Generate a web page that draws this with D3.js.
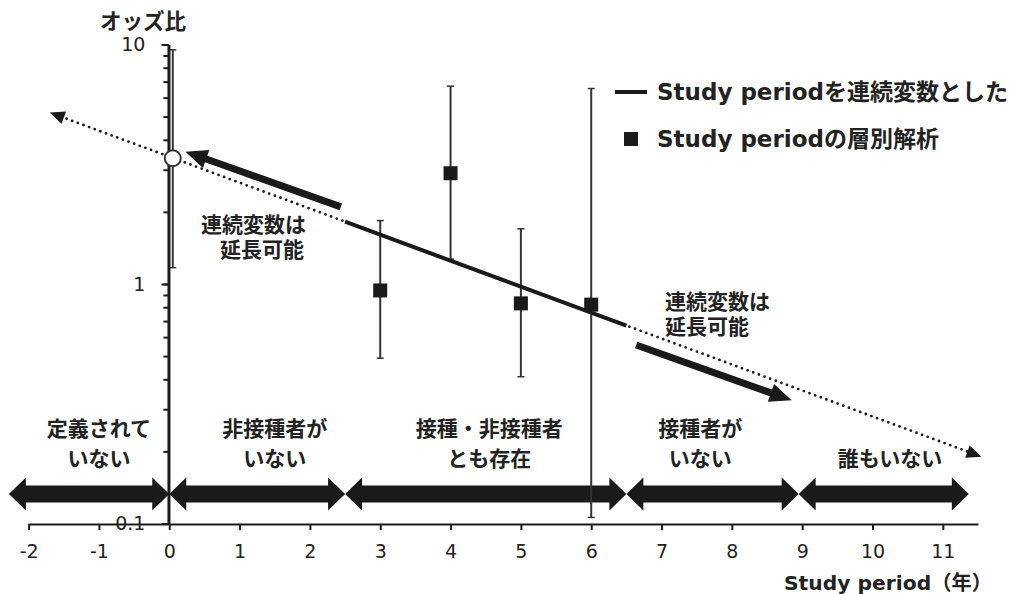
<!DOCTYPE html>
<html lang="ja">
<head>
<meta charset="utf-8">
<script src="https://cdn.jsdelivr.net/npm/d3@7"></script>
<style>
  body { margin: 0; background: #fff; }
  svg { display: block; font-family: "DejaVu Sans", "Noto Sans CJK JP", sans-serif; }
  .bold { font-weight: bold; fill: #222; }
</style>
</head>
<body>
<svg id="chart" width="1015" height="594"></svg>
<script>
// --- data ---
const xTicks = [-2, -1, 0, 1, 2, 3, 4, 5, 6, 7, 8, 9, 10, 11];
const yTicks = [0.1, 1, 10];
const yTickLabels = ["0.1", "1", "10"];

// stratified analysis (squares with 95% CI)
const strataPeriod = [3, 4, 5, 6];
const strataOR = [0.94, 2.9, 0.83, 0.82];
const strataLow = [0.49, 1.27, 0.41, 0.106];
const strataHigh = [1.84, 6.7, 1.7, 6.55];

// value at period 0 (open circle) with its CI, drawn just right of the axis
const originPeriod = 0.05;
const originOR = 3.35;
const originLow = 1.17;
const originHigh = 9.5;

// continuous model: solid part and dotted extrapolation
const solidPeriod = [2.5, 6.5];
const solidOR = [1.82, 0.67];
const dottedPeriod = [-1.7, 11.55];
const dottedOR = [5.2, 0.19];

// "can be extended" arrows: [from period, from OR, to period, to OR]
const extendArrows = [
  [2.44, 2.1, 0.23, 3.57],
  [6.64, 0.556, 8.85, 0.327],
];

// regions along the bottom
const regionBounds = [-2.28, 0, 2.5, 6.5, 8.95, 11.37];
const regionLabels = [
  ["定義されて", "いない"],
  ["非接種者が", "いない"],
  ["接種・非接種者", "とも存在"],
  ["接種者が", "いない"],
  ["誰もいない"],
];
const regionLabelPeriod = [-1.0, 1.5, 4.55, 7.55, 10.25];

const legendLabels = ["Study periodを連続変数とした", "Study periodの層別解析"];

// --- drawing ---
const svg = d3.select("#chart");
const ink = "#1a1a1a";

const x = d3.scaleLinear().domain([-2, 11.5]).range([28.6, 978]);
const y = d3.scaleLog().domain([0.1, 10]).range([523.5, 44.5]);

const axisY = 524;

// arrow polygon from (x1,y1) to tip (x2,y2)
function arrowPath(x1, y1, x2, y2, shaft, headLen, headW) {
  const dx = x2 - x1;
  const dy = y2 - y1;
  const len = Math.sqrt(dx * dx + dy * dy);
  const ux = dx / len;
  const uy = dy / len;
  const nx = -uy;
  const ny = ux;
  const bx = x2 - ux * headLen;
  const by = y2 - uy * headLen;
  const pts = [
    [x1 + nx * shaft / 2, y1 + ny * shaft / 2],
    [bx + nx * shaft / 2, by + ny * shaft / 2],
    [bx + nx * headW / 2, by + ny * headW / 2],
    [x2, y2],
    [bx - nx * headW / 2, by - ny * headW / 2],
    [bx - nx * shaft / 2, by - ny * shaft / 2],
    [x1 - nx * shaft / 2, y1 - ny * shaft / 2],
  ];
  return "M" + pts.map((p) => p.join(",")).join("L") + "Z";
}

function headPath(x1, y1, x2, y2, headLen, headW) {
  return arrowPath(x1, y1, x2, y2, 0, headLen, headW);
}

// bottom double-headed arrows
const regionGroup = svg.append("g");
for (let i = 0; i < regionBounds.length - 1; i++) {
  const x1 = x(regionBounds[i]);
  const x2 = x(regionBounds[i + 1]);
  const cy = 494;
  const hl = 17, hh = 16.5, sh = 8.5;
  const pts = [
    [x1, cy], [x1 + hl, cy - hh], [x1 + hl, cy - sh], [x2 - hl, cy - sh],
    [x2 - hl, cy - hh], [x2, cy], [x2 - hl, cy + hh], [x2 - hl, cy + sh],
    [x1 + hl, cy + sh], [x1 + hl, cy + hh],
  ];
  regionGroup.append("path")
    .attr("d", "M" + pts.map((p) => p.join(",")).join("L") + "Z")
    .attr("fill", ink);
}

regionLabels.forEach((lines, i) => {
  const t = svg.append("text")
    .attr("class", "bold")
    .attr("text-anchor", "middle")
    .attr("font-size", 21);
  const first = lines.length === 1 ? 1 : 0;
  lines.forEach((line, j) => {
    t.append("tspan")
      .attr("x", x(regionLabelPeriod[i]))
      .attr("y", 436 + (j + first) * 30)
      .text(line);
  });
});

// x axis
const xAxis = svg.append("g")
  .attr("transform", `translate(0,${axisY})`)
  .call(d3.axisBottom(x).tickValues(xTicks).tickSize(6).tickSizeOuter(0).tickPadding(15)
    .tickFormat(d3.format("d")));
xAxis.attr("font-size", 19).attr("font-family", "DejaVu Sans");
xAxis.select(".domain").attr("stroke", ink).attr("stroke-width", 2);
xAxis.selectAll(".tick line").attr("stroke", ink).attr("stroke-width", 2);
xAxis.selectAll(".tick text")
  .attr("fill", "#222")
  .text((d) => (d < 0 ? "-" + Math.abs(d) : d));

// error bars
const bars = strataPeriod.map((p, i) => ({ p, or: strataOR[i], lo: strataLow[i], hi: strataHigh[i] }));
bars.push({ p: originPeriod, or: originOR, lo: originLow, hi: originHigh });

const barGroup = svg.append("g").attr("stroke", "#333");
bars.forEach((b) => {
  barGroup.append("line")
    .attr("x1", x(b.p)).attr("x2", x(b.p))
    .attr("y1", y(b.lo)).attr("y2", y(b.hi))
    .attr("stroke-width", 2);
  [b.lo, b.hi].forEach((v) => {
    barGroup.append("line")
      .attr("x1", x(b.p) - 3.5).attr("x2", x(b.p) + 3.5)
      .attr("y1", y(v)).attr("y2", y(v))
      .attr("stroke-width", 1.5);
  });
});

// y axis
const y0 = x(0) - 0.8;
const yMinor = svg.append("g")
  .attr("transform", `translate(${y0},0)`)
  .call(d3.axisLeft(y).tickValues(y.ticks()).tickSize(5).tickSizeOuter(0).tickFormat(""));
yMinor.select(".domain").remove();
yMinor.selectAll(".tick line").attr("stroke", ink).attr("stroke-width", 2);

const yAxis = svg.append("g")
  .attr("transform", `translate(${y0},0)`)
  .call(d3.axisLeft(y).tickValues(yTicks).tickSize(7).tickSizeOuter(0).tickPadding(16)
    .tickFormat((d, i) => yTickLabels[i]));
yAxis.attr("font-size", 19).attr("font-family", "DejaVu Sans");
yAxis.select(".domain").attr("stroke", ink).attr("stroke-width", 3);
yAxis.selectAll(".tick line").attr("stroke", ink).attr("stroke-width", 2);
yAxis.selectAll(".tick text").attr("fill", "#222");

svg.append("text")
  .attr("class", "bold")
  .attr("x", 143).attr("y", 29)
  .attr("text-anchor", "middle")
  .attr("font-size", 21.5)
  .text("オッズ比");

svg.append("text")
  .attr("class", "bold")
  .attr("x", 992).attr("y", 590)
  .attr("text-anchor", "end")
  .attr("font-size", 20.3)
  .text("Study period（年）");

// dotted extrapolation with small heads on both ends
const dx1 = x(dottedPeriod[0]), dy1 = y(dottedOR[0]);
const dx2 = x(dottedPeriod[1]), dy2 = y(dottedOR[1]);
const dlen = Math.hypot(dx2 - dx1, dy2 - dy1);
const shrink = 12 / dlen;
svg.append("line")
  .attr("x1", dx1 + (dx2 - dx1) * shrink).attr("y1", dy1 + (dy2 - dy1) * shrink)
  .attr("x2", dx2 - (dx2 - dx1) * shrink).attr("y2", dy2 - (dy2 - dy1) * shrink)
  .attr("stroke", ink)
  .attr("stroke-width", 2.8)
  .attr("stroke-linecap", "round")
  .attr("stroke-dasharray", "0,6");
svg.append("path").attr("d", headPath(dx2, dy2, dx1, dy1, 15, 13)).attr("fill", ink);
svg.append("path").attr("d", headPath(dx1, dy1, dx2, dy2, 15, 13)).attr("fill", ink);

// solid continuous model
const line = d3.line().x((d) => x(d[0])).y((d) => y(d[1]));
svg.append("path")
  .datum(solidPeriod.map((p, i) => [p, solidOR[i]]))
  .attr("d", line)
  .attr("fill", "none")
  .attr("stroke", ink)
  .attr("stroke-width", 4);

// squares
svg.append("g")
  .selectAll("rect")
  .data(bars.slice(0, strataPeriod.length))
  .join("rect")
  .attr("x", (d) => x(d.p) - 7)
  .attr("y", (d) => y(d.or) - 7)
  .attr("width", 14)
  .attr("height", 14)
  .attr("fill", ink);

// open circle at period 0
svg.append("circle")
  .attr("cx", x(originPeriod))
  .attr("cy", y(originOR))
  .attr("r", 8)
  .attr("fill", "#fff")
  .attr("stroke", "#333")
  .attr("stroke-width", 2);

// bold extension arrows
extendArrows.forEach((a) => {
  svg.append("path")
    .attr("d", arrowPath(x(a[0]), y(a[1]), x(a[2]), y(a[3]), 7, 22, 19))
    .attr("fill", ink);
});

// annotations
const annLeft = svg.append("text").attr("class", "bold").attr("font-size", 21).attr("text-anchor", "end");
annLeft.append("tspan").attr("x", 306).attr("y", 232).text("連続変数は");
annLeft.append("tspan").attr("x", 304).attr("y", 257).text("延長可能");

const annRight = svg.append("text").attr("class", "bold").attr("font-size", 21);
annRight.append("tspan").attr("x", 665).attr("y", 309).text("連続変数は");
annRight.append("tspan").attr("x", 665).attr("y", 334).text("延長可能");

// legend
svg.append("line")
  .attr("x1", 615).attr("x2", 647)
  .attr("y1", 92).attr("y2", 92)
  .attr("stroke", ink)
  .attr("stroke-width", 4);
svg.append("rect")
  .attr("x", 624).attr("y", 132)
  .attr("width", 14).attr("height", 14)
  .attr("fill", ink);
legendLabels.forEach((label, i) => {
  svg.append("text")
    .attr("class", "bold")
    .attr("x", 657)
    .attr("y", 100 + i * 47)
    .attr("font-size", 23)
    .text(label);
});
</script>
</body>
</html>
